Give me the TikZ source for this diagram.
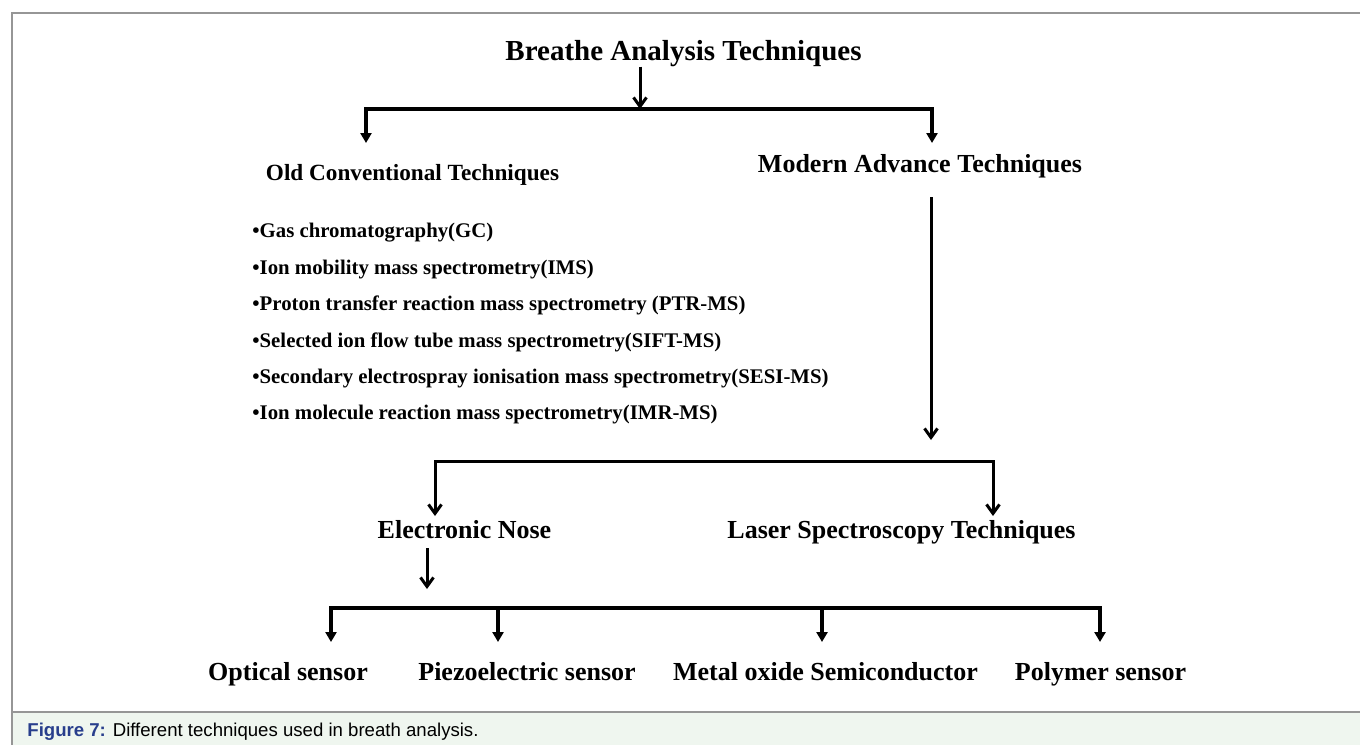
\documentclass[tikz,border=0pt]{standalone}
\usepackage{fontspec}
\setmainfont{Liberation Serif}
\newfontfamily\capfont{Liberation Sans}
\usetikzlibrary{arrows.meta}
\definecolor{capbg}{RGB}{239,246,239}
\definecolor{capblue}{RGB}{40,62,140}
\definecolor{framegray}{RGB}{150,150,150}

\begin{document}
\begin{tikzpicture}[
    x=0.5pt, y=-0.5pt,
    ttl/.style={font=\bfseries\fontsize{14.5}{17}\selectfont, inner sep=0pt, anchor=base},
    hd/.style={font=\bfseries\fontsize{13}{15}\selectfont, inner sep=0pt, anchor=base},
    itm/.style={font=\bfseries\fontsize{10.4}{12}\selectfont, inner sep=0pt, anchor=base west},
    tri/.style={line width=1.6pt, -{Triangle[length=5pt, width=5.5pt]}},
    barb/.style={line width=1.5pt, -{Straight Barb[length=4.5pt, width=6.5pt]}},
  ]
  \useasboundingbox (0,0) rectangle (1360,745);
  % frame and caption band
  \fill[capbg] (12,712) rectangle (1360,745);
  \draw[framegray, line width=0.6pt] (1360,13) -- (12,13) -- (12,745);
  \draw[framegray, line width=0.6pt] (12,712) -- (1360,712);
  \node[font=\capfont\fontsize{9.3}{11}\selectfont, inner sep=0pt, anchor=base west] (cap) at (27,736)
    {\textcolor{capblue}{\bfseries Figure 7:} Different techniques used in breath analysis.};

  % texts
  \node[ttl] (title) at (683.5,60) {Breathe Analysis Techniques};
  \node[hd, font=\bfseries\fontsize{11.6}{14}\selectfont] (old) at (412.5,180) {Old Conventional Techniques};
  \node[hd] (modern) at (920,172) {Modern Advance Techniques};
  \node[itm] (gc)   at (252,237) {•Gas chromatography(GC)};
  \node[itm] (ims)  at (252,274) {•Ion mobility mass spectrometry(IMS)};
  \node[itm] (ptr)  at (252,310) {•Proton transfer reaction mass spectrometry (PTR-MS)};
  \node[itm] (sift) at (252,347) {•Selected ion flow tube mass spectrometry(SIFT-MS)};
  \node[itm] (sesi) at (252,383) {•Secondary electrospray ionisation mass spectrometry(SESI-MS)};
  \node[itm] (imr)  at (252,419) {•Ion molecule reaction mass spectrometry(IMR-MS)};
  \node[hd] (nose)  at (464.5,538) {Electronic Nose};
  \node[hd] (laser) at (901.5,538) {Laser Spectroscopy Techniques};
  \node[hd] (opt) at (288,680) {Optical sensor};
  \node[hd] (pie) at (527,680) {Piezoelectric sensor};
  \node[hd] (mos) at (825.5,680) {Metal oxide Semiconductor};
  \node[hd] (pol) at (1100.5,680) {Polymer sensor};

  % junctions and arrow ends
  \coordinate (j1) at (640,109);
  \coordinate (oldin) at (366,143);
  \coordinate (modin) at (932,143);
  \coordinate (modout) at (931,197);
  \coordinate (advin) at (931,440);
  \coordinate (j2) at (931,461);
  \coordinate (nosein) at (435,516);
  \coordinate (laserin) at (993,516);
  \coordinate (noseout) at (427,548);
  \coordinate (j3in) at (427,589);
  \coordinate (j3) at (427,608);
  \coordinate (optin) at (331,642);
  \coordinate (piein) at (498,642);
  \coordinate (mosin) at (822,642);
  \coordinate (polin) at (1100,642);

  % connectors
  \draw[barb] (title.south -| j1) -- (j1);
  \draw[tri] (j1) -| (oldin);
  \draw[tri] (j1) -| (modin);
  \draw[barb] (modout) -- (advin);
  \draw[barb] (j2) -| (nosein);
  \draw[barb] (j2) -| (laserin);
  \draw[barb] (noseout) -- (j3in);
  \foreach \t in {optin, piein, mosin, polin}
    \draw[tri] (j3) -| (\t);
\end{tikzpicture}
\end{document}
